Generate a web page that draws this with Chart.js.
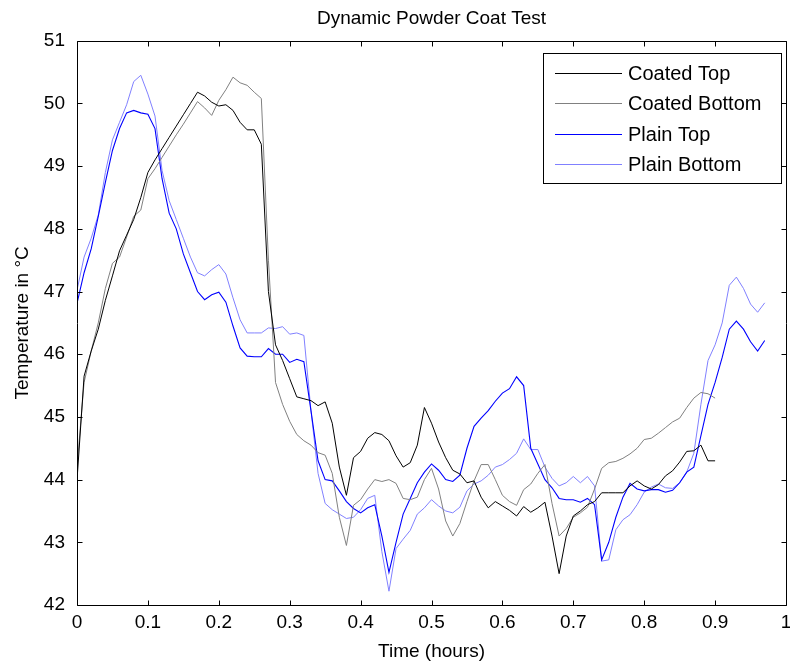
<!DOCTYPE html>
<html>
<head>
<meta charset="utf-8">
<script src="https://cdn.jsdelivr.net/npm/chart.js@4.4.1/dist/chart.umd.min.js"></script>
<style>
html,body{margin:0;padding:0;background:#fff;}
#wrap{width:790px;height:664px;position:relative;}
</style>
</head>
<body>
<div id="wrap"><canvas id="c" width="790" height="664"></canvas></div>
<script>
// ---- Data ----
const timeHours = [
  0.00,0.01,0.02,0.03,0.04,0.05,0.06,0.07,0.08,0.09,
  0.10,0.11,0.12,0.13,0.14,0.15,0.16,0.17,0.18,0.19,
  0.20,0.21,0.22,0.23,0.24,0.25,0.26,0.27,0.28,0.29,
  0.30,0.31,0.32,0.33,0.34,0.35,0.36,0.37,0.38,0.39,
  0.40,0.41,0.42,0.43,0.44,0.45,0.46,0.47,0.48,0.49,
  0.50,0.51,0.52,0.53,0.54,0.55,0.56,0.57,0.58,0.59,
  0.60,0.61,0.62,0.63,0.64,0.65,0.66,0.67,0.68,0.69,
  0.70,0.71,0.72,0.73,0.74,0.75,0.76,0.77,0.78,0.79,
  0.80,0.81,0.82,0.83,0.84,0.85,0.86,0.87,0.88,0.89,
  0.90,0.91,0.92,0.93,0.94,0.95,0.96,0.97
];

const coatedTop = [
  43.99,45.65,46.05,46.40,46.86,47.25,47.65,47.90,48.15,48.50,
  48.90,49.10,49.28,49.46,49.64,49.82,50.00,50.18,50.12,50.02,
  49.96,49.98,49.89,49.70,49.58,49.58,49.35,47.00,46.15,45.90,
  45.61,45.32,45.29,45.26,45.18,45.24,44.90,44.20,43.75,44.35,
  44.45,44.66,44.75,44.72,44.62,44.38,44.20,44.27,44.55,45.15,
  44.90,44.60,44.35,44.15,44.09,43.95,43.98,43.72,43.55,43.65,
  43.58,43.51,43.42,43.57,43.48,43.55,43.64,43.10,42.50,43.10,
  43.42,43.50,43.60,43.65,43.79,43.79,43.79,43.79,43.90,43.98,
  43.90,43.85,43.92,44.06,44.14,44.28,44.45,44.46,44.55,44.30,
  44.30
];

const coatedBottom = [
  44.20,45.55,46.05,46.50,47.05,47.45,47.55,47.87,48.20,48.30,
  48.80,48.96,49.14,49.32,49.50,49.67,49.85,50.03,49.93,49.81,
  50.05,50.22,50.42,50.33,50.29,50.18,50.08,47.50,45.55,45.20,
  44.93,44.72,44.62,44.55,44.43,44.39,44.10,43.40,42.95,43.59,
  43.68,43.85,44.00,43.97,44.00,43.94,43.70,43.68,43.72,44.00,
  44.18,43.85,43.34,43.10,43.30,43.65,43.98,44.24,44.24,44.00,
  43.75,43.65,43.59,43.84,43.93,44.10,44.24,43.62,43.10,43.22,
  43.40,43.47,43.56,43.85,44.18,44.27,44.29,44.34,44.41,44.50,
  44.64,44.66,44.74,44.83,44.92,44.98,45.15,45.30,45.39,45.37,
  45.30
];

const plainTop = [
  46.81,47.30,47.68,48.20,48.74,49.25,49.60,49.85,49.89,49.85,
  49.83,49.60,48.80,48.25,48.00,47.60,47.30,47.00,46.87,46.95,
  46.99,46.83,46.45,46.10,45.97,45.96,45.96,46.09,46.00,46.00,
  45.87,45.92,45.88,45.10,44.30,44.00,43.98,43.82,43.65,43.54,
  43.47,43.55,43.60,43.10,42.52,43.00,43.45,43.70,43.95,44.12,
  44.25,44.15,44.00,43.97,44.07,44.50,44.85,44.98,45.10,45.25,
  45.38,45.45,45.64,45.50,44.50,44.25,44.00,43.87,43.70,43.68,
  43.68,43.64,43.70,43.60,42.72,43.00,43.40,43.72,43.94,43.85,
  43.82,43.84,43.84,43.80,43.83,43.95,44.12,44.20,44.70,45.20,
  45.55,45.95,46.40,46.53,46.40,46.20,46.05,46.22
];

const plainBottom = [
  47.02,47.55,47.85,48.22,48.90,49.42,49.70,49.98,50.35,50.45,
  50.15,49.80,48.93,48.45,48.15,47.85,47.55,47.30,47.25,47.35,
  47.43,47.28,46.90,46.55,46.34,46.34,46.34,46.42,46.41,46.44,
  46.32,46.34,46.30,45.10,44.10,43.62,43.52,43.45,43.38,43.40,
  43.52,43.70,43.75,42.85,42.22,42.90,43.05,43.19,43.45,43.55,
  43.68,43.58,43.50,43.47,43.56,43.82,43.93,43.98,44.07,44.20,
  44.24,44.32,44.42,44.65,44.48,44.48,44.20,44.02,43.90,43.95,
  44.05,43.95,44.05,43.90,42.70,42.72,43.20,43.36,43.44,43.60,
  43.80,43.88,43.93,43.87,43.86,43.95,44.12,44.42,45.20,45.90,
  46.15,46.50,47.10,47.23,47.05,46.80,46.67,46.82
];

const seriesNames = ['Coated Top', 'Coated Bottom', 'Plain Top', 'Plain Bottom'];
const xTickValues = [0, 0.1, 0.2, 0.3, 0.4, 0.5, 0.6, 0.7, 0.8, 0.9, 1];
const yTickValues = [42, 43, 44, 45, 46, 47, 48, 49, 50, 51];

// ---- Build chart ----
const FONT = '"Liberation Sans", Arial, Helvetica, sans-serif';
function pts(vals) { return vals.map((v, i) => ({ x: timeHours[i], y: v })); }

const styles = [
  { color: '#000000', width: 1 },
  { color: '#808080', width: 1 },
  { color: '#0000ff', width: 1.1 },
  { color: '#8080ff', width: 1 }
];
const seriesValues = [coatedTop, coatedBottom, plainTop, plainBottom];

const datasets = seriesNames.map((name, i) => ({
  label: name,
  data: pts(seriesValues[i]),
  borderColor: styles[i].color,
  borderWidth: styles[i].width,
  pointRadius: 0,
  tension: 0,
  fill: false
}));

// centre the title over the plot area (as in the reference)
const titleCenterPlugin = {
  id: 'titleCenter',
  afterLayout(chart) {
    const tb = chart.titleBlock;
    if (tb) {
      tb.left = chart.chartArea.left;
      tb.right = chart.chartArea.right;
      tb.width = tb.right - tb.left;
    }
  }
};

const framePlugin = {
  id: 'matlabFrame',
  afterDatasetsDraw(chart) {
    const { ctx, chartArea: a, scales: { x, y } } = chart;
    ctx.save();
    ctx.strokeStyle = '#000';
    ctx.lineWidth = 1;
    ctx.beginPath();
    const l = Math.round(a.left) + 0.5, r = Math.round(a.right) + 0.5;
    const t = Math.round(a.top) + 0.5, b = Math.round(a.bottom) + 0.5;
    ctx.rect(l, t, r - l, b - t);
    const L = 5;
    x.ticks.forEach(tk => {
      const px = Math.round(x.getPixelForValue(tk.value)) + 0.5;
      ctx.moveTo(px, b); ctx.lineTo(px, b - L);
      ctx.moveTo(px, t); ctx.lineTo(px, t + L);
    });
    y.ticks.forEach(tk => {
      const py = Math.round(y.getPixelForValue(tk.value)) + 0.5;
      ctx.moveTo(l, py); ctx.lineTo(l + L, py);
      ctx.moveTo(r, py); ctx.lineTo(r - L, py);
    });
    ctx.stroke();
    ctx.restore();
  }
};

const boxLegendPlugin = {
  id: 'boxLegend',
  afterDraw(chart) {
    const { ctx } = chart;
    const bx = 543.5, by = 53.5, bw = 238, bh = 130;
    ctx.save();
    ctx.fillStyle = '#fff';
    ctx.fillRect(bx, by, bw, bh);
    ctx.strokeStyle = '#000';
    ctx.lineWidth = 1;
    ctx.strokeRect(bx, by, bw, bh);
    ctx.font = '20px ' + FONT;
    ctx.textBaseline = 'middle';
    ctx.textAlign = 'left';
    chart.data.datasets.forEach((ds, i) => {
      const yy = Math.round(73 + i * 30.3) + 0.5;
      ctx.strokeStyle = ds.borderColor;
      ctx.lineWidth = ds.borderWidth;
      ctx.beginPath();
      ctx.moveTo(555, yy);
      ctx.lineTo(622, yy);
      ctx.stroke();
      ctx.fillStyle = '#000';
      ctx.fillText(ds.label, 628, yy + 1);
    });
    ctx.restore();
  }
};

new Chart(document.getElementById('c'), {
  type: 'line',
  data: { datasets },
  plugins: [titleCenterPlugin, framePlugin, boxLegendPlugin],
  options: {
    responsive: false,
    animation: false,
    devicePixelRatio: 1,
    layout: { padding: { left: 0, right: 4, top: 0, bottom: 0 } },
    plugins: {
      legend: { display: false },
      tooltip: { enabled: false },
      title: {
        display: true,
        text: 'Dynamic Powder Coat Test',
        color: '#000',
        font: { family: FONT, size: 19, weight: 'normal' },
        padding: { top: 7, bottom: 11 }
      }
    },
    scales: {
      x: {
        type: 'linear',
        min: 0,
        max: 1,
        afterBuildTicks: s => { s.ticks = xTickValues.map(v => ({ value: v })); },
        ticks: {
          color: '#000',
          font: { family: FONT, size: 19 },
          padding: 6,
          maxRotation: 0,
          autoSkip: false,
          callback: v => String(Math.round(v * 10) / 10)
        },
        grid: { display: false, drawTicks: false },
        border: { display: false },
        title: {
          display: true,
          text: 'Time (hours)',
          color: '#000',
          font: { family: FONT, size: 19 },
          padding: { top: 0, bottom: 1 }
        },
        afterFit: s => { s.height = 59; s.paddingLeft = 0; s.paddingRight = 0; }
      },
      y: {
        type: 'linear',
        min: 42,
        max: 51,
        afterBuildTicks: s => { s.ticks = yTickValues.map(v => ({ value: v })); },
        ticks: {
          color: '#000',
          font: { family: FONT, size: 19 },
          padding: 12,
          callback: v => String(v)
        },
        grid: { display: false, drawTicks: false },
        border: { display: false },
        title: {
          display: true,
          text: 'Temperature in °C',
          color: '#000',
          font: { family: FONT, size: 19 },
          padding: { top: 11, bottom: 0 }
        },
        afterFit: s => { s.width = 77; s.paddingTop = 0; s.paddingBottom = 0; }
      }
    }
  }
});
</script>
</body>
</html>
